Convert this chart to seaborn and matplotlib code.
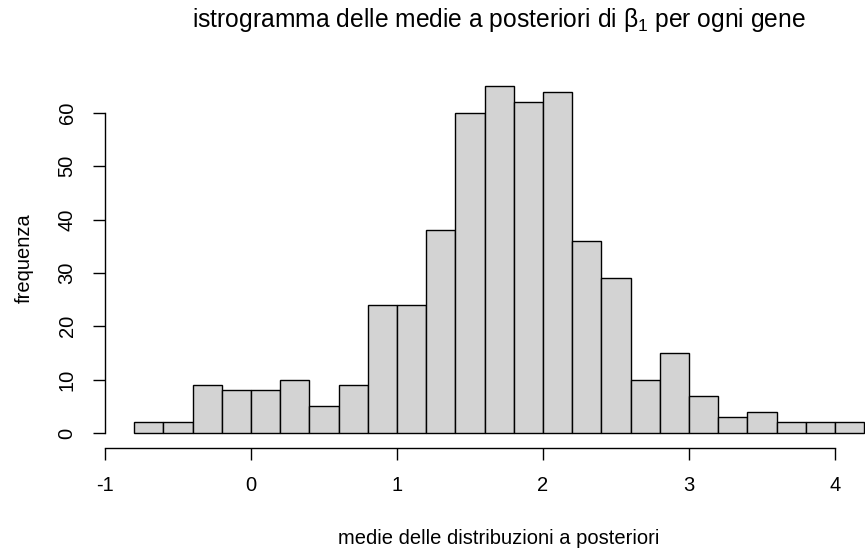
import numpy as np
import pandas as pd
import matplotlib
matplotlib.use("Agg")
import matplotlib.pyplot as plt
import seaborn as sns

# Histogram counts of posterior means, bins of width 0.2 starting at -0.8
bin_left = [-0.8, -0.6, -0.4, -0.2, 0.0, 0.2, 0.4, 0.6, 0.8, 1.0, 1.2, 1.4, 1.6,
            1.8, 2.0, 2.2, 2.4, 2.6, 2.8, 3.0, 3.2, 3.4, 3.6, 3.8, 4.0]
counts = [2, 2, 9, 8, 8, 10, 5, 9, 24, 24, 38, 60, 65,
          62, 64, 36, 29, 10, 15, 7, 3, 4, 2, 2, 2]
bin_width = 0.2
x_ticks = [-1, 0, 1, 2, 3, 4]
y_ticks = [0, 10, 20, 30, 40, 50, 60]

title = r"istrogramma delle medie a posteriori di $\beta_1$ per ogni gene"
xlabel = "medie delle distribuzioni a posteriori"
ylabel = "frequenza"

sns.set_style("white")
plt.rcParams["font.family"] = ["Liberation Sans", "DejaVu Sans"]
plt.rcParams["mathtext.fontset"] = "custom"
plt.rcParams["mathtext.rm"] = "Liberation Sans"
plt.rcParams["mathtext.it"] = "Liberation Sans"
plt.rcParams["text.color"] = "black"

df = pd.DataFrame({"centro": np.array(bin_left) + bin_width / 2, "n": counts})
edges = list(bin_left) + [bin_left[-1] + bin_width]

W, H = 865, 553
fig = plt.figure(figsize=(W / 100, H / 100), dpi=100)
px_left, px_right, px_bottom, px_top = 105, 865, 448, 72
ax = fig.add_axes([px_left / W, (H - px_bottom) / H,
                   (px_right - px_left) / W, (px_bottom - px_top) / H])

sns.histplot(data=df, x="centro", weights="n", bins=edges, ax=ax,
             color="#D3D3D3", edgecolor="black", linewidth=1.0, alpha=1.0)

# pixel scale: 146 px per x unit, 5.333 px per count
ax.set_xlim(-1, -1 + (px_right - px_left) / 146)
ax.set_ylim(-(px_bottom - 433) / 5.333, (433 - px_top) / 5.333)

for s in ["top", "right"]:
    ax.spines[s].set_visible(False)
ax.spines["left"].set_bounds(0, 60)
ax.spines["bottom"].set_bounds(-1, 4)
for s in ["left", "bottom"]:
    ax.spines[s].set_color("black")
    ax.spines[s].set_linewidth(1.0)

ax.set_xticks(x_ticks)
ax.set_xticklabels([str(v) for v in x_ticks])
ax.set_yticks(y_ticks)
ax.set_yticklabels([str(v) for v in y_ticks], rotation=90, va="center")
ax.tick_params(axis="both", direction="out", length=8.5, width=1.0,
               colors="black", labelcolor="black", labelsize=14.5,
               bottom=True, left=True)
ax.tick_params(axis="x", pad=11.5)
ax.tick_params(axis="y", pad=12)

ax.set_xlabel("")
ax.set_ylabel("")
fig.text(499 / W, 1 - 538 / H, xlabel, ha="center", va="center", fontsize=14.5)
fig.text(24 / W, 1 - 258 / H, ylabel, ha="center", va="center",
         rotation=90, fontsize=14.5)
fig.text(499 / W, 1 - 20 / H, title, ha="center", va="center", fontsize=17.7)

fig.savefig("out.png", dpi=100)
